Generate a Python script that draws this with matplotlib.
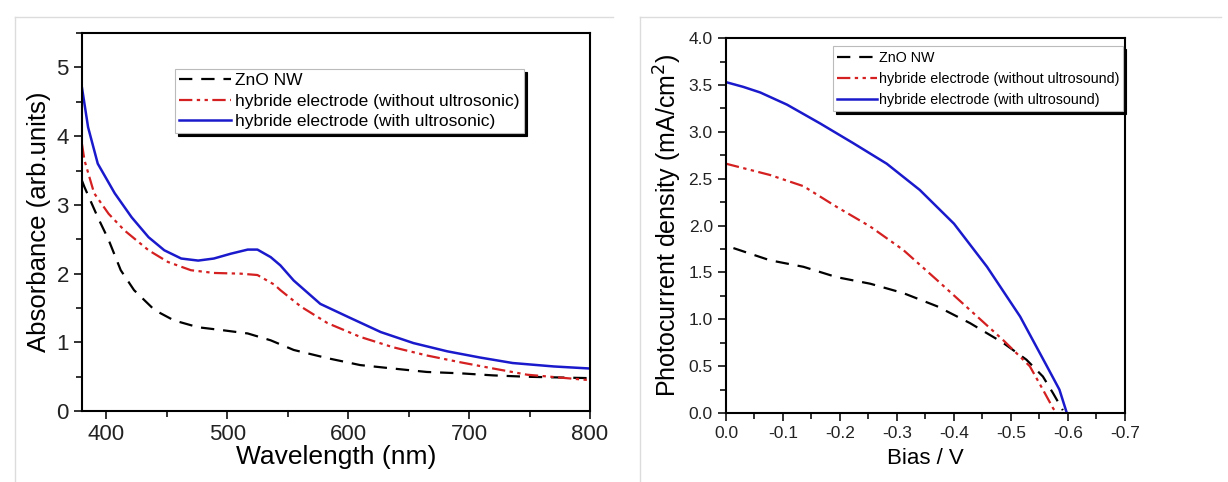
import matplotlib
matplotlib.use("Agg")
import matplotlib.pyplot as plt
from matplotlib.ticker import MultipleLocator, FormatStrFormatter
from matplotlib.lines import Line2D

plt.rcParams["font.family"] = ["Liberation Sans", "DejaVu Sans"]
plt.rcParams["axes.unicode_minus"] = False

# --- absorbance spectra (left) ---
wl_zno = [380, 382, 393, 402, 412, 423, 440, 456, 476, 495, 517, 536, 555, 583, 610, 637,
          665, 693, 720, 748, 800]
abs_zno = [3.35, 3.26, 2.82, 2.49, 2.05, 1.76, 1.47, 1.32, 1.22, 1.18, 1.13, 1.03, 0.89, 0.77,
           0.67, 0.62, 0.57, 0.55, 0.52, 0.50, 0.48]

wl_hyb = [380, 382, 390, 402, 415, 435, 451, 470, 489, 511, 525, 530, 539, 544, 561, 583,
          610, 637, 665, 693, 720, 748, 800]
abs_hyb = [3.88, 3.65, 3.17, 2.87, 2.63, 2.34, 2.17, 2.05, 2.01, 2.00, 1.98, 1.93, 1.84, 1.76,
           1.52, 1.28, 1.08, 0.93, 0.81, 0.71, 0.62, 0.53, 0.45]

wl_us = [380, 385, 393, 407, 421, 435, 448, 462, 476, 489, 503, 517, 525, 536, 544, 555,
         577, 600, 627, 654, 682, 709, 736, 770, 800]
abs_us = [4.70, 4.13, 3.60, 3.17, 2.82, 2.53, 2.34, 2.22, 2.19, 2.22, 2.29, 2.35, 2.35, 2.24,
          2.12, 1.90, 1.56, 1.37, 1.15, 0.99, 0.87, 0.78, 0.70, 0.65, 0.62]

# --- photocurrent (right) ---
bias_zno = [-0.013, -0.077, -0.136, -0.194, -0.253, -0.311, -0.37, -0.428, -0.486, -0.527,
            -0.556, -0.574, -0.591]
j_zno = [1.76, 1.63, 1.56, 1.45, 1.38, 1.28, 1.14, 0.96, 0.75, 0.57, 0.39, 0.21, 0.03]

bias_hyb = [0.0, -0.077, -0.136, -0.194, -0.253, -0.311, -0.37, -0.428, -0.486, -0.533,
            -0.556, -0.574, -0.58]
j_hyb = [2.66, 2.54, 2.42, 2.20, 1.99, 1.74, 1.42, 1.10, 0.78, 0.50, 0.25, 0.05, 0.0]

bias_us = [0.0, -0.03, -0.06, -0.107, -0.165, -0.223, -0.282, -0.34, -0.40, -0.458, -0.516,
           -0.563, -0.585, -0.598]
j_us = [3.53, 3.48, 3.42, 3.29, 3.09, 2.88, 2.66, 2.38, 2.02, 1.56, 1.03, 0.50, 0.25, 0.0]

labels_left = ["ZnO NW", "hybride electrode (without ultrosonic)", "hybride electrode (with ultrosonic)"]
labels_right = ["ZnO NW", "hybride electrode (without ultrosound)", "hybride electrode (with ultrosound)"]

styles = [
    dict(color="black", linestyle=(0, (6, 4)), linewidth=1.6),
    dict(color="#d42020", linestyle=(0, (6, 2, 1.5, 2, 1.5, 2)), linewidth=1.6),
    dict(color="#1a1acc", linestyle="-", linewidth=1.8),
]

fig = plt.figure(figsize=(12.28, 4.82), dpi=100)

# faint panel frames
for x0, x1 in [(0.012, 0.499), (0.521, 0.994)]:
    fig.add_artist(Line2D([x0, x1], [0.965, 0.965], color="#dcdcdc", lw=1))
    fig.add_artist(Line2D([x0, x0], [0.0, 0.965], color="#dcdcdc", lw=1))

# Absorbance
ax1 = fig.add_axes([0.0668, 0.147, 0.4137, 0.7845])
ax1.plot(wl_zno, abs_zno, label=labels_left[0], **styles[0])
ax1.plot(wl_hyb, abs_hyb, label=labels_left[1], **styles[1])
ax1.plot(wl_us, abs_us, label=labels_left[2], **styles[2])
ax1.set_xlim(380, 800)
ax1.set_ylim(0, 5.5)
ax1.xaxis.set_major_locator(MultipleLocator(100))
ax1.xaxis.set_minor_locator(MultipleLocator(50))
ax1.yaxis.set_major_locator(MultipleLocator(1))
ax1.yaxis.set_minor_locator(MultipleLocator(0.5))
ax1.tick_params(which="both", direction="out", width=1.3, labelsize=16, colors="#222222")
ax1.tick_params(which="major", length=6)
ax1.tick_params(which="minor", length=4)
ax1.set_xlabel("Wavelength (nm)", fontsize=19, labelpad=0)
ax1.set_ylabel("Absorbance (arb.units)", fontsize=18.5, labelpad=4)
for s in ax1.spines.values():
    s.set_linewidth(1.5)
leg1 = ax1.legend(loc="upper left", bbox_to_anchor=(0.183, 0.905), fontsize=12.5,
                  frameon=True, fancybox=False, shadow={"color": "black", "alpha": 1},
                  edgecolor="#bbbbbb", handlelength=3.0, handletextpad=0.2,
                  borderpad=0.25, labelspacing=0.3, borderaxespad=0)
leg1.get_frame().set_linewidth(0.8)

# Photocurrent
ax2 = fig.add_axes([0.5912, 0.143, 0.3249, 0.778])
ax2.plot(bias_zno, j_zno, label=labels_right[0], **styles[0])
ax2.plot(bias_hyb, j_hyb, label=labels_right[1], **styles[1])
ax2.plot(bias_us, j_us, label=labels_right[2], **styles[2])
ax2.set_xlim(0, -0.7)
ax2.set_ylim(0, 4.0)
ax2.xaxis.set_major_locator(MultipleLocator(0.1))
ax2.xaxis.set_minor_locator(MultipleLocator(0.05))
ax2.yaxis.set_major_locator(MultipleLocator(0.5))
ax2.yaxis.set_minor_locator(MultipleLocator(0.25))
ax2.xaxis.set_major_formatter(FormatStrFormatter("%.1f"))
ax2.yaxis.set_major_formatter(FormatStrFormatter("%.1f"))
ax2.tick_params(which="both", direction="out", width=1.3, labelsize=12.5, colors="#222222")
ax2.tick_params(which="major", length=6)
ax2.tick_params(which="minor", length=4)
ax2.set_xlabel("Bias / V", fontsize=16, labelpad=5)
ax2.set_ylabel("Photocurrent density (mA/cm$^2$)", fontsize=18, labelpad=3)
for s in ax2.spines.values():
    s.set_linewidth(1.5)
leg2 = ax2.legend(loc="upper left", bbox_to_anchor=(0.268, 0.978), fontsize=10.3,
                  frameon=True, fancybox=False, shadow={"color": "black", "alpha": 1},
                  edgecolor="#bbbbbb", handlelength=2.8, handletextpad=0.1,
                  borderpad=0.3, labelspacing=0.5, borderaxespad=0)
leg2.get_frame().set_linewidth(0.8)

fig.savefig("out.png", dpi=100)
